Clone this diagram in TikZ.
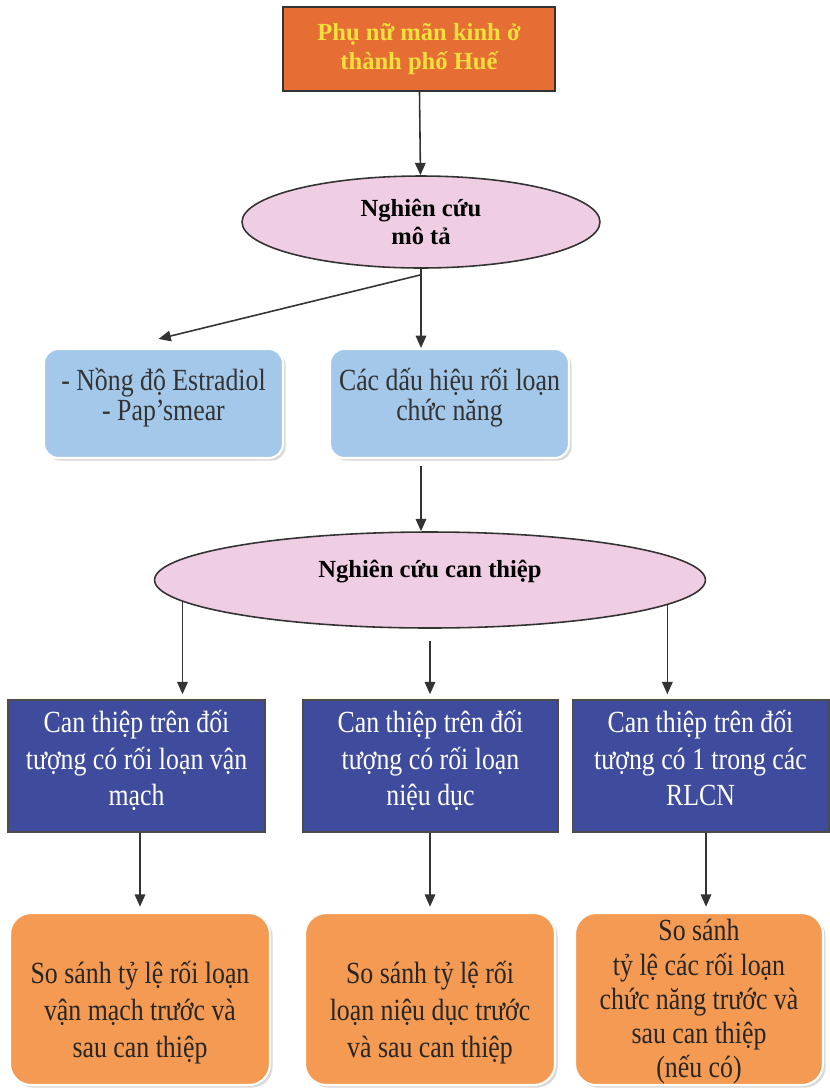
\documentclass[tikz,border=0pt]{standalone}
\usepackage{fontspec}
\setmainfont{Liberation Serif}
\newfontfamily\tallfont[FakeStretch=0.84]{Liberation Serif}
\usetikzlibrary{positioning,shapes.geometric,arrows.meta,calc,shadows}

\definecolor{hueorange}{HTML}{E66D33}
\definecolor{hueyellow}{HTML}{F2E03E}
\definecolor{ovalpink}{HTML}{EFCDE3}
\definecolor{softblue}{HTML}{A4C8EA}
\definecolor{darkblue}{HTML}{3F4C9E}
\definecolor{resorange}{HTML}{F59A52}

\begin{document}
\begin{tikzpicture}[
    x=0.02cm, y=-0.02cm,
    txt/.style={align=center, inner sep=0pt, font=\tallfont\fontsize{17.5}{21}\selectfont},
    topbox/.style={draw=black!80, line width=1pt, fill=hueorange, minimum width=5.44cm, minimum height=1.68cm,
        align=center, text=hueyellow, font=\bfseries\fontsize{14}{17}\selectfont},
    oval/.style={ellipse, draw=black!80, line width=0.9pt, fill=ovalpink, inner sep=0pt, align=center,
        font=\bfseries\fontsize{14}{16}\selectfont},
    softbox/.style={rounded corners=8pt, draw=white, line width=1.2pt, fill=softblue, minimum width=4.78cm,
        minimum height=2.18cm, drop shadow={shadow xshift=1.5pt, shadow yshift=-1.5pt, fill=black!30}},
    darkbox/.style={draw=black!70, line width=0.6pt, fill=darkblue, minimum height=2.64cm},
    resbox/.style={rounded corners=12pt, draw=white, line width=1.2pt, fill=resorange, minimum height=3.44cm,
        drop shadow={shadow xshift=1.5pt, shadow yshift=-1.5pt, fill=black!30}},
    arr/.style={-{Triangle[width=6pt,length=7pt]}, line width=0.9pt, draw=black!80},
]
    \useasboundingbox (0,0) rectangle (830,1090);

    % Top of the chart
    \node[topbox] (women) at (419,49) {Phụ nữ mãn kinh ở\\thành phố Huế};
    \node[oval, minimum width=7.16cm, minimum height=1.84cm] (desc) at (421,222) {Nghiên cứu\\mô tả};

    % Descriptive study boxes
    \node[softbox] (estr) at (163.5,403.5) {};
    \node[txt, text=black!80, font=\tallfont\fontsize{17.5}{17}\selectfont, below=0.4cm of estr.north] (estrt) {- Nồng độ Estradiol\\- Pap’smear};
    \node[softbox] (sign) at (449.5,403.5) {};
    \node[txt, text=black!80, font=\tallfont\fontsize{17.5}{17}\selectfont, below=0.4cm of sign.north] (signt) {Các dấu hiệu rối loạn\\chức năng};

    % Intervention study
    \node[oval, minimum width=11.02cm, minimum height=1.92cm, text depth=13pt] (interv) at (430,580) {Nghiên cứu can thiệp};

    % Intervention groups
    \node[darkbox, minimum width=5.14cm] (vaso) at (136.5,766) {};
    \node[darkbox, minimum width=5.10cm] (uro) at (430.5,766) {};
    \node[darkbox, minimum width=5.14cm] (any) at (700.5,766) {};
    \node[txt, text=white, below=0.2cm of vaso.north] (vasot) {Can thiệp trên đối\\tượng có rối loạn vận\\mạch};
    \node[txt, text=white, below=0.2cm of uro.north] (urot) {Can thiệp trên đối\\tượng có rối loạn\\niệu dục};
    \node[txt, text=white, below=0.2cm of any.north] (anyt) {Can thiệp trên đối\\tượng có 1 trong các\\RLCN};

    % Results
    \node[resbox, minimum width=5.2cm] (cmp1) at (140,999) {};
    \node[resbox, minimum width=5.0cm] (cmp2) at (430,999) {};
    \node[resbox, minimum width=4.96cm] (cmp3) at (699,999) {};
    \node[txt, text=black!85] at ($(cmp1)+(0,14)$) (cmp1t) {So sánh tỷ lệ rối loạn\\vận mạch trước và\\sau can thiệp};
    \node[txt, text=black!85] at ($(cmp2)+(0,14)$) (cmp2t) {So sánh tỷ lệ rối\\loạn niệu dục trước\\và sau can thiệp};
    \node[txt, text=black!85, font=\tallfont\fontsize{17.5}{19.5}\selectfont] at ($(cmp3)+(0,3)$) (cmp3t) {So sánh\\tỷ lệ các rối loạn\\chức năng trước và\\sau can thiệp\\(nếu có)};

    % Arrows
    \draw[arr] (women) -- (desc);
    \draw[arr] ($(desc.south)+(0,6)$) -- ($(estr.north)+(-5,-9)$);
    \draw[arr] (desc.south) -- (desc.south |- sign.north);
    \draw[arr] ($(desc.south |- sign.south)+(0,7)$) -- (desc.south |- interv.north);
    \draw[arr, shorten >=3pt] (interv.185.3) -- (interv.185.3 |- vaso.north);
    \draw[arr, shorten >=3pt] ($(interv.south)+(0,12)$) -- (interv.south |- uro.north);
    \draw[arr, shorten >=3pt] (interv.354.7) -- (interv.354.7 |- any.north);
    \draw[arr, shorten >=3pt] (cmp1.north |- vaso.south) -- (cmp1.north);
    \draw[arr, shorten >=3pt] (cmp2.north |- uro.south) -- (cmp2.north);
    \draw[arr, shorten >=3pt] ([xshift=4pt]cmp3.north |- any.south) -- ([xshift=4pt]cmp3.north);

\end{tikzpicture}
\end{document}
